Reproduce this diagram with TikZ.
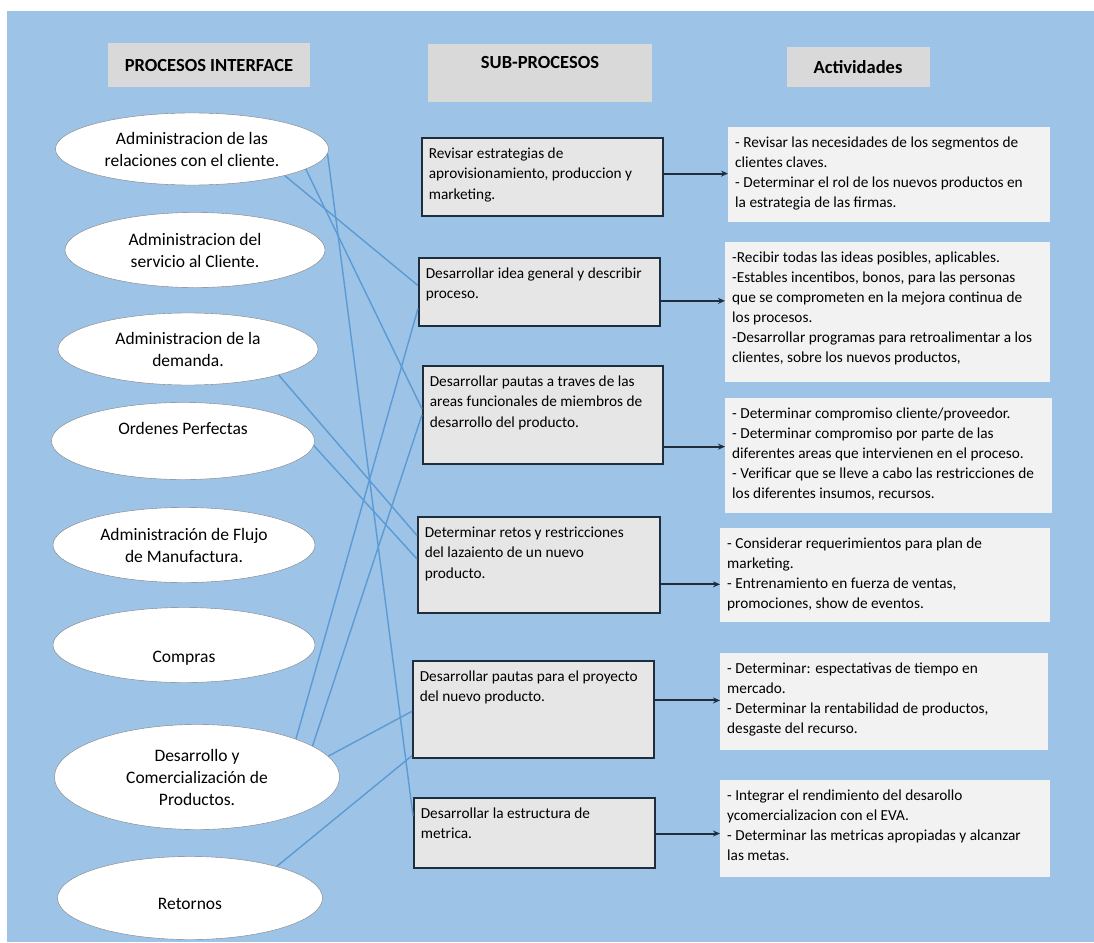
\documentclass[tikz,border=0pt]{standalone}
\usepackage{fontspec}
\setmainfont{Carlito}
\definecolor{Fondo}{HTML}{9DC3E6}
\definecolor{Enlace}{HTML}{5B9BD5}
\definecolor{Marco}{HTML}{1F2D3D}
\definecolor{Gris}{HTML}{E7E6E6}
\definecolor{Claro}{HTML}{F2F2F2}
\definecolor{Titulo}{HTML}{D9D9D9}
\usetikzlibrary{shapes.geometric,arrows.meta,calc}

% texto arriba a la izquierda dentro de una caja de alto fijo
\newcommand{\caja}[3]{\parbox[c][#1][t]{#2}{\begin{tabular}{@{}l@{}}#3\end{tabular}}}

\tikzset{
    % encabezados de columna
    titulo/.style={
        rectangle,
        fill=Titulo,
        align=center,
        font=\fontsize{18.5}{22}\selectfont\bfseries
    },
    proceso/.style={
        ellipse,
        draw=gray,
        fill=white,
        inner sep=2pt,
        align=center,
        font=\fontsize{17.5}{22}\selectfont
    },
    subproceso/.style={
        rectangle,
        draw=Marco,
        fill=Gris,
        line width=1.6pt,
        anchor=north west,
        inner xsep=7pt,
        inner ysep=6pt,
        font=\fontsize{15.3}{20.5}\selectfont
    },
    actividad/.style={
        rectangle,
        fill=Claro,
        anchor=north west,
        inner xsep=7pt,
        inner ysep=6pt,
        font=\fontsize{15.3}{20}\selectfont
    },
    enlace/.style={
        color=Enlace,
        line width=1.4pt
    },
    flecha/.style={
        -{Stealth[length=7pt,width=6pt]},
        line width=2pt,
        color=Marco
    }
}

\begin{document}
\begin{tikzpicture}[x=1pt,y=-1pt]
    \useasboundingbox (0,0) rectangle (1094,942);
    \fill[Fondo] (7,11) rectangle (1094,942);

    % encabezados
    \node[titulo, minimum width=202pt, minimum height=44pt] (tProc) at (209,65) {PROCESOS INTERFACE};
    \node[titulo, minimum width=224pt, minimum height=57pt, text height=13pt, text depth=21pt] (tSub) at (540,73) {SUB-PROCESOS};
    \node[titulo, minimum width=143pt, minimum height=40pt] (tAct) at (858,67) {Actividades};

    % procesos interface
    \node[proceso, minimum width=273pt, minimum height=72pt] (relaciones) at (192,149) {Administracion de las\\relaciones con el cliente.};
    \node[proceso, minimum width=260pt, minimum height=75pt] (servicio) at (195,250) {Administracion del\\servicio al Cliente.};
    \node[proceso, minimum width=260pt, minimum height=72pt] (demanda) at (188,349) {Administracion de la\\demanda.};
    \node[proceso, minimum width=263pt, minimum height=77pt, text height=12pt, text depth=25pt] (ordenes) at (183,441) {Ordenes Perfectas};
    \node[proceso, minimum width=262pt, minimum height=75pt] (flujo) at (184,545) {Administración de Flujo\\de Manufactura.};
    \node[proceso, minimum width=262pt, minimum height=75pt, text height=39pt, text depth=4pt] (compras) at (184,645) {Compras};
    \node[proceso, minimum width=285pt, minimum height=105pt] (desarrollo) at (197,777) {Desarrollo y\\Comercialización de\\Productos.};
    \node[proceso, minimum width=265pt, minimum height=83pt, text height=27pt, text depth=4pt] (retornos) at (190,898) {Retornos};

    % sub-procesos
    \node[subproceso] (revisar) at (421,137) {\caja{66pt}{227pt}{Revisar estrategias de\\aprovisionamiento, produccion y\\marketing.}};
    \node[subproceso] (idea) at (418,257) {\caja{56pt}{227pt}{Desarrollar idea general y describir\\proceso.}};
    \node[subproceso] (pautas) at (422,365) {\caja{86pt}{226pt}{Desarrollar pautas a traves de las\\areas funcionales de miembros de\\desarrollo del producto.}};
    \node[subproceso] (retos) at (417,516) {\caja{84pt}{228pt}{Determinar retos y restricciones\\del lazaiento de un nuevo\\producto.}};
    \node[subproceso] (proyecto) at (412,660) {\caja{85pt}{227pt}{Desarrollar pautas para el proyecto\\del nuevo producto.}};
    \node[subproceso] (metrica) at (413,797) {\caja{58pt}{227pt}{Desarrollar la estructura de\\metrica.}};

    % actividades
    \node[actividad] (act1) at (728,127) {\caja{83pt}{308pt}{- Revisar las necesidades de los segmentos de\\clientes claves.\\- Determinar el rol de los nuevos productos en\\la estrategia de las firmas.}};
    \node[actividad] (act2) at (725,242) {\caja{128pt}{311pt}{-Recibir todas las ideas posibles, aplicables.\\-Estables incentibos, bonos, para  las personas\\que se comprometen en la mejora continua de\\los procesos.\\-Desarrollar programas para retroalimentar a los\\clientes, sobre los nuevos productos,}};
    \node[actividad] (act3) at (725,398) {\caja{103pt}{313pt}{- Determinar compromiso cliente/proveedor.\\- Determinar compromiso por parte de las\\diferentes areas que intervienen en el proceso.\\- Verificar que se lleve a cabo las restricciones de\\los diferentes insumos, recursos.}};
    \node[actividad] (act4) at (720,528) {\caja{82pt}{316pt}{- Considerar requerimientos para plan de\\marketing.\\- Entrenamiento en fuerza de ventas,\\promociones, show de eventos.}};
    \node[actividad] (act5) at (720,653) {\caja{85pt}{314pt}{- Determinar: espectativas de tiempo en\\mercado.\\- Determinar la rentabilidad de productos,\\desgaste del recurso.}};
    \node[actividad] (act6) at (720,780) {\caja{85pt}{316pt}{- Integrar el rendimiento del desarollo\\ycomercializacion con el EVA.\\- Determinar las metricas apropiadas y alcanzar\\las metas.}};

    % enlaces procesos -> sub-procesos
    \draw[enlace] (relaciones.-16) -- ($(idea.north west)!0.41!(idea.south west)$);
    \draw[enlace] (relaciones.-10) -- ($(pautas.north west)!0.44!(pautas.south west)$);
    \draw[enlace] (relaciones.-2) -- ($(metrica.north west)!0.26!(metrica.south west)$);
    \draw[enlace] (demanda.-16) -- ($(retos.north west)!0.20!(retos.south west)$);
    \draw[enlace] (ordenes.-2) -- ($(retos.north west)!0.44!(retos.south west)$);
    \draw[enlace] (desarrollo.21) -- ($(idea.north west)!0.74!(idea.south west)$);
    \draw[enlace] (desarrollo.15) -- ($(pautas.north west)!0.50!(pautas.south west)$);
    \draw[enlace] (desarrollo.9) -- ($(proyecto.north west)!0.52!(proyecto.south west)$);
    \draw[enlace] (retornos.20) -- ($(proyecto.north west)!0.97!(proyecto.south west)$);

    % flechas sub-procesos -> actividades
    \draw[flecha] ($(revisar.north east)!0.46!(revisar.south east)$) coordinate (p1) -- (act1.west |- p1);
    \draw[flecha] ($(idea.north east)!0.63!(idea.south east)$) coordinate (p2) -- (act2.west |- p2);
    \draw[flecha] ($(pautas.north east)!0.82!(pautas.south east)$) coordinate (p3) -- (act3.west |- p3);
    \draw[flecha] ($(retos.north east)!0.70!(retos.south east)$) coordinate (p4) -- (act4.west |- p4);
    \draw[flecha] ($(proyecto.north east)!0.41!(proyecto.south east)$) coordinate (p5) -- (act5.west |- p5);
    \draw[flecha] ($(metrica.north east)!0.51!(metrica.south east)$) coordinate (p6) -- (act6.west |- p6);
\end{tikzpicture}
\end{document}
